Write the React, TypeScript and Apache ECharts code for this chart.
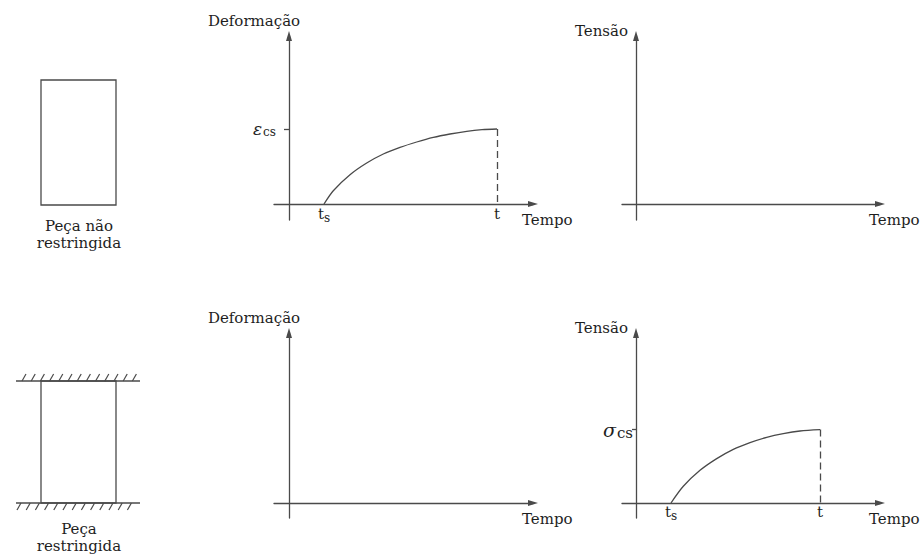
import React, { useEffect, useRef } from 'react';
import * as echarts from 'echarts';

const FONT = "'DejaVu Serif', serif";
const LINE = '#4a4a4a';
const TEXT = '#1e1e1e';

// arbitrary time / value units
const T_S = 3.5;
const T_END_DEF = 20.8;
const T_END_TEN = 18.4;
const EPS_CS = 7.5;
const SIGMA_CS = 7.34;

const deformacaoX = [3.5, 4.43, 6.1, 7.77, 9.43, 11.1, 12.77, 14.43, 16.1, 17.77, 19.3, 20.8];
const deformacaoY = [0, 1.33, 2.93, 4.1, 5.0, 5.66, 6.2, 6.66, 7.0, 7.27, 7.43, 7.5];
const tensaoX = [3.5, 4.73, 6.4, 8.07, 9.73, 11.4, 13.07, 14.73, 16.4, 18.4];
const tensaoY = [0, 1.67, 3.27, 4.44, 5.37, 6.04, 6.57, 6.94, 7.2, 7.34];

const X_NAME = 'Tempo';
const Y_NAME_DEF = 'Deformação';
const Y_NAME_TEN = 'Tensão';
const PIECE_FREE = ['Peça não', 'restringida'];
const PIECE_FIXED = ['Peça', 'restringida'];

const axisLine = {
  show: true,
  onZero: true,
  symbol: ['none', 'triangle'],
  symbolSize: [6, 10],
  lineStyle: { color: LINE, width: 1.3 },
};

function xAxis(gridIndex: number, min: number, max: number, ticks: number[]) {
  return {
    type: 'value',
    gridIndex,
    min,
    max,
    splitLine: { show: false },
    axisLine,
    axisTick: { show: false },
    axisLabel: {
      show: ticks.length > 0,
      customValues: ticks,
      margin: -15,
      formatter: (v: number) => (v === T_S ? '{t|t}{s|s}' : '{t|t}'),
      rich: {
        t: { fontFamily: FONT, fontSize: 15, color: TEXT, lineHeight: 18 },
        s: { fontFamily: FONT, fontSize: 12, color: TEXT, lineHeight: 18, padding: [8, 0, 0, 0] },
      },
    },
    name: X_NAME,
    nameLocation: 'end',
    nameGap: -11,
    nameTextStyle: {
      fontFamily: FONT,
      fontSize: 15,
      color: TEXT,
      align: 'left',
      verticalAlign: 'top',
      padding: [8, 0, 0, 0],
    },
  };
}

function yAxis(
  gridIndex: number,
  min: number,
  max: number,
  name: string,
  ticks: number[],
  symbol: string,
  gSize: number,
  subSize: number,
  margin: number,
  tickLen: number
) {
  const isDef = name === Y_NAME_DEF;
  return {
    type: 'value',
    gridIndex,
    min,
    max,
    splitLine: { show: false },
    axisLine,
    axisTick: {
      show: ticks.length > 0,
      customValues: ticks,
      length: tickLen,
      lineStyle: { color: LINE, width: 1.3 },
    },
    axisLabel: {
      show: ticks.length > 0,
      customValues: ticks,
      margin,
      formatter: () => '{g|' + symbol + '}{s|cs}',
      rich: {
        g: { fontFamily: FONT, fontStyle: 'italic', fontSize: gSize, color: TEXT },
        s: { fontFamily: FONT, fontSize: subSize, color: TEXT, padding: [6, 0, 0, 1] },
      },
    },
    name,
    nameLocation: 'end',
    nameGap: isDef ? 15 : 5,
    nameTextStyle: isDef
      ? { fontFamily: FONT, fontSize: 15, color: TEXT, align: 'center', verticalAlign: 'middle', padding: [0, 70, 0, 0] }
      : { fontFamily: FONT, fontSize: 15, color: TEXT, align: 'right', verticalAlign: 'middle', padding: [0, 8, 0, 0] },
  };
}

function curve(idx: number, xs: number[], ys: number[], tEnd: number, top: number) {
  return {
    type: 'line',
    xAxisIndex: idx,
    yAxisIndex: idx,
    data: xs.map((x, i) => [x, ys[i]]),
    smooth: 0.3,
    symbol: 'none',
    showSymbol: false,
    lineStyle: { color: LINE, width: 1.3 },
    markLine: {
      silent: true,
      symbol: ['none', 'none'],
      label: { show: false },
      lineStyle: { type: [7, 4], color: LINE, width: 1.3 },
      data: [[{ coord: [tEnd, top] }, { coord: [tEnd, 0] }]],
    },
  };
}

function hatch(y0: number, above: boolean) {
  const marks: any[] = [];
  for (let i = 0; i < 13; i++) {
    const bx = (above ? 22 : 17) + i * 9.2;
    marks.push({
      type: 'line',
      shape: above
        ? { x1: bx, y1: y0, x2: bx + 4, y2: y0 - 7 }
        : { x1: bx, y1: y0 + 7, x2: bx + 4, y2: y0 },
      style: { stroke: LINE, lineWidth: 1.2 },
    });
  }
  return marks;
}

function label(lines: string[], x: number, y: number) {
  return {
    type: 'text',
    style: {
      text: lines.join('\n'),
      x,
      y,
      fontFamily: FONT,
      fontSize: 15,
      lineHeight: 17,
      fill: TEXT,
      align: 'center',
      verticalAlign: 'middle',
    },
  };
}

const graphic = [
  { type: 'rect', shape: { x: 41, y: 80, width: 75, height: 125 }, style: { fill: 'none', stroke: LINE, lineWidth: 1.3 } },
  label(PIECE_FREE, 79, 234),
  { type: 'line', shape: { x1: 16, y1: 381, x2: 140, y2: 381 }, style: { stroke: LINE, lineWidth: 1.3 } },
  { type: 'rect', shape: { x: 41, y: 381, width: 75, height: 122 }, style: { fill: 'none', stroke: LINE, lineWidth: 1.3 } },
  { type: 'line', shape: { x1: 16, y1: 503, x2: 140, y2: 503 }, style: { stroke: LINE, lineWidth: 1.3 } },
  ...hatch(381, true),
  ...hatch(503, false),
  label(PIECE_FIXED, 79, 537),
];

const option: any = {
  animation: false,
  backgroundColor: '#ffffff',
  grid: [
    { left: 274, top: 36, width: 259, height: 184, outerBoundsMode: 'none' },
    { left: 622, top: 36, width: 258, height: 184, outerBoundsMode: 'none' },
    { left: 274, top: 333, width: 259, height: 185, outerBoundsMode: 'none' },
    { left: 622, top: 333, width: 258, height: 185, outerBoundsMode: 'none' },
  ],
  xAxis: [
    xAxis(0, -1.5, 24.4, [T_S, T_END_DEF]),
    xAxis(1, -1.4, 24.4, []),
    xAxis(2, -1.5, 24.4, []),
    xAxis(3, -1.4, 24.4, [T_S, T_END_TEN]),
  ],
  yAxis: [
    yAxis(0, -1.6, 16.8, Y_NAME_DEF, [EPS_CS], 'ε', 17, 12, -2, 5),
    yAxis(1, -1.6, 16.8, Y_NAME_TEN, [], 'σ', 19, 15, -11, 4),
    yAxis(2, -1.5, 17.0, Y_NAME_DEF, [], 'ε', 17, 12, -2, 5),
    yAxis(3, -1.5, 17.0, Y_NAME_TEN, [SIGMA_CS], 'σ', 19, 15, -11, 4),
  ],
  series: [
    curve(0, deformacaoX, deformacaoY, T_END_DEF, EPS_CS),
    curve(3, tensaoX, tensaoY, T_END_TEN, SIGMA_CS),
  ],
  graphic,
};

export default function App() {
  const ref = useRef<HTMLDivElement>(null);
  useEffect(() => {
    const chart = echarts.init(ref.current!, null, { renderer: 'svg' });
    chart.setOption(option);
    return () => chart.dispose();
  }, []);
  return (
    <div
      ref={ref}
      style={{ position: 'fixed', left: 0, top: 0, width: 922, height: 554, background: '#fff' }}
    />
  );
}
